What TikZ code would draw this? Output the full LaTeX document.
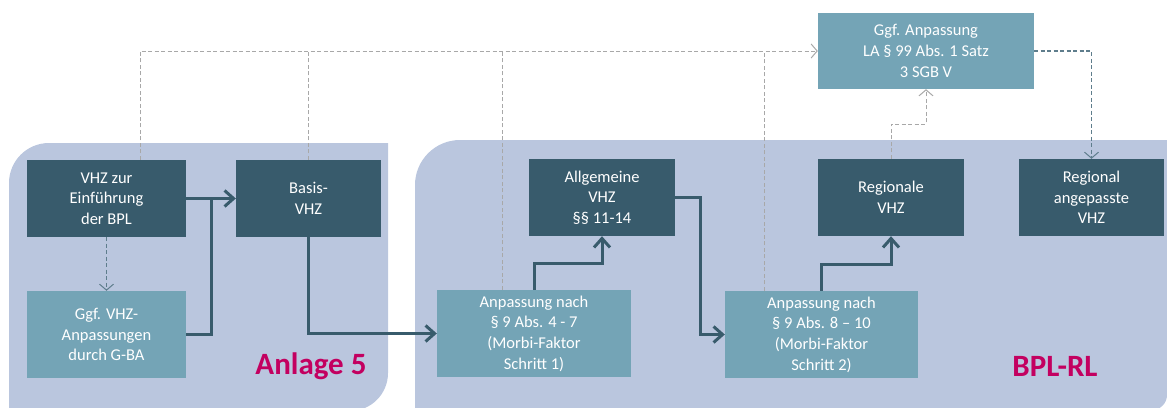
\documentclass[tikz,border=0pt]{standalone}
\usepackage{fontspec}
\setmainfont{Carlito}
\usetikzlibrary{arrows.meta}
\definecolor{darkbox}{HTML}{385B6C}
\definecolor{lightbox}{HTML}{74A4B6}
\definecolor{panelc}{HTML}{BAC6DE}
\definecolor{magent}{HTML}{C30060}
\definecolor{grayd}{HTML}{A8A8A8}
\definecolor{darkd}{HTML}{5E7D8C}
\tikzset{
  boxbase/.style={inner sep=0pt, align=center, text=white, font=\fontsize{16.5}{20.7}\selectfont},
  darkbox/.style={boxbase, fill=darkbox},
  lightbox/.style={boxbase, fill=lightbox},
  flow/.style={draw=darkbox, line width=3pt, -{Straight Barb[length=9pt,width=16pt,line width=3pt]}},
  flowline/.style={draw=darkbox, line width=3pt},
  graydash/.style={draw=grayd, line width=1pt, dash pattern=on 4pt off 2.5pt},
  darkdash/.style={draw=darkd, line width=1.2pt, dash pattern=on 4pt off 2.5pt},
  openhead/.style={-{Straight Barb[length=6pt,width=14pt,line width=1pt]}},
  paneltitle/.style={text=magent, font=\fontsize{31}{34}\selectfont\bfseries}
}
\begin{document}
\begin{tikzpicture}[x=1pt,y=-1pt]
\useasboundingbox (0,0) rectangle (1167,407);
\clip (0,0) rectangle (1167,407);
% panels
\fill[panelc] (9,420) -- (9,183) arc[start angle=180, end angle=270, radius=40] -- (388,143) -- (388,373) arc[start angle=0, end angle=90, radius=38] -- cycle;
\fill[panelc] (415,420) -- (415,185) arc[start angle=180, end angle=270, radius=45] -- (1167,140) -- (1167,395) arc[start angle=0, end angle=90, radius=15] -- cycle;
% boxes
\node[darkbox, minimum width=159pt, minimum height=77pt] (vhz) at (106.5,198.5) {VHZ zur\\Einführung\\der BPL};
\node[darkbox, minimum width=145pt, minimum height=77pt] (basis) at (308.5,198.5) {Basis-\\VHZ};
\node[lightbox, minimum width=159pt, minimum height=87pt] (ggfvhz) at (106.5,334.5) {Ggf. VHZ-\\Anpassungen\\durch G-BA};
\node[lightbox, minimum width=194pt, minimum height=87pt] (anp1) at (534,333.5) {Anpassung nach\\§ 9 Abs. 4 - 7\\(Morbi-Faktor\\Schritt 1)};
\node[darkbox, minimum width=146pt, minimum height=77pt] (allg) at (602,197.5) {Allgemeine\\VHZ\\§§ 11-14};
\node[lightbox, minimum width=193pt, minimum height=87pt] (anp2) at (821.5,334.5) {Anpassung nach\\§ 9 Abs. 8 – 10\\(Morbi-Faktor\\Schritt 2)};
\node[darkbox, minimum width=146pt, minimum height=77pt] (reg) at (891,197.5) {Regionale\\VHZ};
\node[darkbox, minimum width=145pt, minimum height=77pt] (regang) at (1091.5,197.5) {Regional\\angepasste\\VHZ};
\node[lightbox, minimum width=216pt, minimum height=76pt] (ggfla) at (926,51) {Ggf. Anpassung\\LA § 99 Abs. 1 Satz\\3 SGB V};
% titles
\node[paneltitle] (t1) at (311,366) {Anlage 5};
\node[paneltitle] (t2) at (1055,366) {BPL-RL};
% coordinates
\coordinate (j1) at (211,198.5);
\coordinate (m2) at (534,263);
\coordinate (m3) at (700,197.5);
\coordinate (m4) at (821.5,264);
\coordinate (m5) at (891,124);
% gray dashed feedback lines
\draw[graydash, openhead] ([xshift=33.5pt]vhz.north) |- (ggfla.west);
\draw[graydash] (basis.north) -- (basis.north |- ggfla.west);
\draw[graydash] ([xshift=-32pt]anp1.north) -- ([xshift=-32pt]anp1.north |- ggfla.west);
\draw[graydash] ([xshift=-57.5pt]anp2.north) -- ([xshift=-57.5pt]anp2.north |- ggfla.west);
\draw[graydash, openhead] (reg.north) -- (m5) -| (ggfla.south);
\draw[darkdash, openhead] (ggfla.east) -| (regang.north);
\draw[darkdash, openhead] (vhz.south) -- (ggfvhz.north);
% main flow
\draw[flowline] (ggfvhz.east) -| (j1);
\draw[flow, line width=3.5pt] (vhz.east) -- (basis.west);
\draw[flow] (basis.south) |- (anp1.west);
\draw[flow] (anp1.north) -- (m2) -| (allg.south);
\draw[flow] (allg.east) -- (m3) |- (anp2.west);
\draw[flow] (anp2.north) -- (m4) -| (reg.south);
\end{tikzpicture}
\end{document}
